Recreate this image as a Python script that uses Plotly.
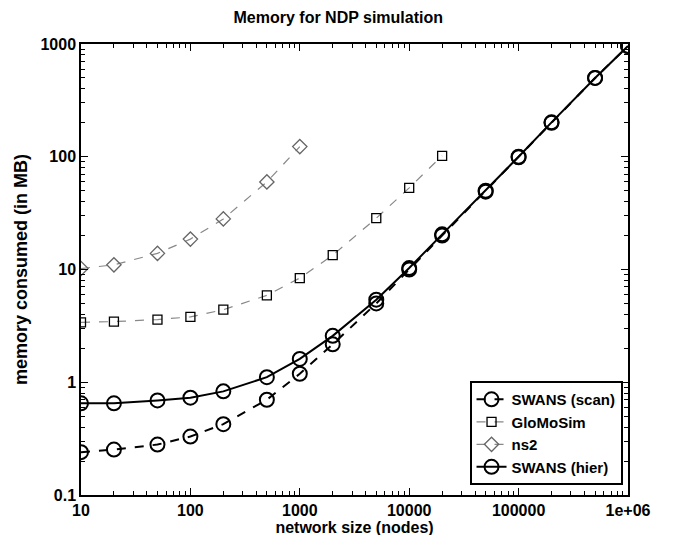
import plotly.graph_objects as go

nodes = [10, 20, 50, 100, 200, 500, 1000, 2000, 5000, 10000, 20000, 50000, 100000, 200000, 500000, 1000000]
swans_scan = [0.24, 0.253, 0.28, 0.33, 0.425, 0.70, 1.19, 2.17, 5.0, 10.0, 20.0, 49.0, 99.0, 200, 500, 960]
swans_hier = [0.65, 0.65, 0.69, 0.73, 0.83, 1.11, 1.61, 2.58, 5.4, 10.3, 20.5, 50.0, 100.0, 202, 500, 960]
glomo_nodes = [10, 20, 50, 100, 200, 500, 1000, 2000, 5000, 10000, 20000]
glomosim = [3.4, 3.45, 3.6, 3.8, 4.4, 5.9, 8.4, 13.4, 28.5, 53, 102]
ns2_nodes = [10, 20, 50, 100, 200, 500, 1000]
ns2 = [10.2, 11.0, 13.9, 18.6, 28.1, 59.8, 123]

x_ticks = [10, 100, 1000, 10000, 100000, 1000000]
x_ticktext = ["10", "100", "1000", "10000", "100000", "1e+06"]
y_ticks = [0.1, 1, 10, 100, 1000]
y_ticktext = ["0.1", "1", "10", "100", "1000"]

x_minor = [m * 10 ** e for e in range(1, 6) for m in range(2, 10)]
y_minor = [m * 10.0 ** e for e in range(-1, 3) for m in range(2, 10)]

FONT = "Liberation Sans, Arial, Helvetica"

fig = go.Figure()
fig.add_trace(go.Scatter(
    x=nodes, y=swans_scan, name="<b>SWANS (scan)</b>", mode="lines+markers",
    line=dict(color="black", width=2, dash="dash"),
    marker=dict(symbol="circle-open", size=14, color="black", line=dict(width=2))))
fig.add_trace(go.Scatter(
    x=glomo_nodes, y=glomosim, name="<b>GloMoSim</b>", mode="lines+markers",
    line=dict(color="#888888", width=1.2, dash="dash"),
    marker=dict(symbol="square-open", size=9, color="black", line=dict(width=1.3))))
fig.add_trace(go.Scatter(
    x=ns2_nodes, y=ns2, name="<b>ns2</b>", mode="lines+markers",
    line=dict(color="#888888", width=1.2, dash="dash"),
    marker=dict(symbol="diamond-open", size=11, color="#666666", line=dict(width=1.3))))
fig.add_trace(go.Scatter(
    x=nodes, y=swans_hier, name="<b>SWANS (hier)</b>", mode="lines+markers",
    line=dict(color="black", width=2),
    marker=dict(symbol="circle-open", size=14, color="black", line=dict(width=2))))

axis_common = dict(
    type="log", showgrid=False, zeroline=False,
    showline=True, linecolor="black", linewidth=1.5, mirror="ticks",
    ticks="inside", ticklen=7, tickwidth=1, tickcolor="black",
    tickfont=dict(family=FONT, size=16, color="black"),
)

fig.update_xaxes(**axis_common, range=[1, 6], tickmode="array", tickvals=x_ticks,
                 ticktext=["<b>%s</b>" % t for t in x_ticktext],
                 minor=dict(tickmode="array", tickvals=x_minor, ticks="inside", ticklen=4,
                            tickcolor="black", tickwidth=1),
                 title=dict(text="<b>network size (nodes)</b>", standoff=1,
                            font=dict(family=FONT, size=16, color="black")))
fig.update_yaxes(**axis_common, range=[-1, 3], tickmode="array", tickvals=y_ticks,
                 ticktext=["<b>%s</b>" % t for t in y_ticktext],
                 minor=dict(tickmode="array", tickvals=y_minor, ticks="inside", ticklen=4,
                            tickcolor="black", tickwidth=1),
                 title=dict(text="<b>memory consumed (in MB)</b>", standoff=8,
                            font=dict(family=FONT, size=18, color="black")))

fig.update_layout(
    width=674, height=535,
    margin=dict(l=71, r=54, t=36, b=44),
    paper_bgcolor="white", plot_bgcolor="white",
    title=dict(text="<b>Memory for NDP simulation</b>", x=0.49, xanchor="center", y=0.992, yanchor="top",
               font=dict(family=FONT, size=16, color="black")),
    legend=dict(x=0.99, y=0.022, xanchor="right", yanchor="bottom",
                bgcolor="white", bordercolor="black", borderwidth=2,
                font=dict(family=FONT, size=15, color="black"),
                tracegroupgap=0, itemwidth=30),
    showlegend=True,
)

fig.write_html("out.html")
